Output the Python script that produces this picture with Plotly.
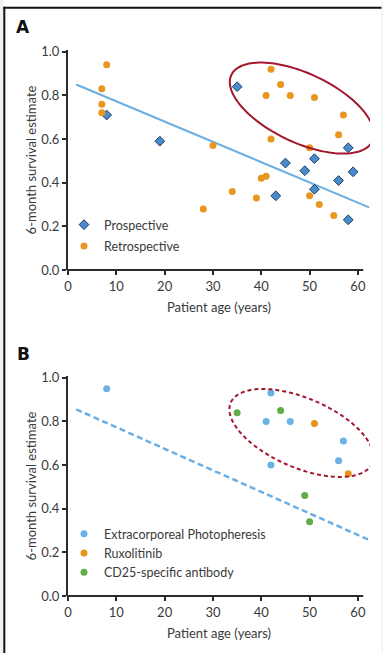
import numpy as np
import plotly.graph_objects as go

# ---------------- data ----------------
prosp_age = [8, 19, 35, 43, 45, 49, 51, 51, 56, 58, 58, 59]
prosp_surv = [0.71, 0.59, 0.84, 0.34, 0.49, 0.455, 0.51, 0.37, 0.41, 0.56, 0.23, 0.45]

retro_age = [7, 7, 7, 8, 28, 30, 34, 39, 40, 41, 41, 42, 42, 44, 46, 50, 50, 51, 52, 55, 56, 57]
retro_surv = [0.83, 0.76, 0.72, 0.94, 0.28, 0.57, 0.36, 0.33, 0.42, 0.43, 0.80, 0.92, 0.60,
              0.85, 0.80, 0.56, 0.34, 0.79, 0.30, 0.25, 0.62, 0.71]

trend_a_age = [1.7, 62.3]
trend_a_surv = [0.85, 0.287]

ecp_age = [8, 41, 42, 42, 46, 56, 57]
ecp_surv = [0.95, 0.80, 0.93, 0.60, 0.80, 0.62, 0.71]
rux_age = [51, 58]
rux_surv = [0.79, 0.56]
cd25_age = [35, 44, 49, 50]
cd25_surv = [0.84, 0.85, 0.46, 0.34]

trend_b_age = [1.7, 62.7]
trend_b_surv = [0.855, 0.253]

x_ticks = [0, 10, 20, 30, 40, 50, 60]
y_ticks = [0.0, 0.2, 0.4, 0.6, 0.8, 1.0]
y_tick_text = ["0.0", "0.2", "0.4", "0.6", "0.8", "1.0"]

# ---------------- layout geometry ----------------
W, H = 383, 653
ML, MR, MT, MB = 68, 13, 50, 57
X_RANGE = [0, 62.5]
Y_RANGE = [0, 1.008]
AXIS_END = 61.1
PLOT_W = W - ML - MR
PLOT_H = H - MT - MB
PANEL_H = 220


def paper_x(px):
    return (px - ML) / PLOT_W


def paper_y(py):
    return (H - MB - py) / PLOT_H


XS = PLOT_W / (X_RANGE[1] - X_RANGE[0])
YS = PANEL_H / (Y_RANGE[1] - Y_RANGE[0])


def ellipse_path(cx, cy, a_px, b_px, theta_deg, n=120):
    th = np.deg2rad(theta_deg)
    t = np.linspace(0, 2 * np.pi, n, endpoint=False)
    dx = a_px * np.cos(t) * np.cos(th) - b_px * np.sin(t) * np.sin(th)
    dy = a_px * np.cos(t) * np.sin(th) + b_px * np.sin(t) * np.cos(th)
    xs = cx + dx / XS
    ys = cy - dy / YS
    pts = [f"{x:.3f},{y:.4f}" for x, y in zip(xs, ys)]
    return "M" + " L".join(pts) + " Z"


FONT = "Lato, 'Open Sans', sans-serif"
TXT = "#3a3a3a"
AX = "#2b2b2b"

C_PRO = "#4a8bcb"
C_PRO_LINE = "#1d3c66"
C_RET = "#e8961f"
C_TREND = "#6aaee3"
C_ECP = "#6ab2e6"
C_RUX = "#e8911c"
C_CD25 = "#5eae45"
C_ELL = "#a3172f"

fig = go.Figure()

# Panel A
fig.add_trace(go.Scatter(x=trend_a_age, y=trend_a_surv, mode="lines",
                         line=dict(color=C_TREND, width=2), showlegend=False,
                         xaxis="x", yaxis="y", hoverinfo="skip"))
fig.add_trace(go.Scatter(x=prosp_age, y=prosp_surv, mode="markers", name="Prospective",
                         marker=dict(symbol="diamond", size=7.5, color=C_PRO,
                                     line=dict(color=C_PRO_LINE, width=1)),
                         xaxis="x", yaxis="y", legend="legend", legendgroup="p"))
fig.add_trace(go.Scatter(x=retro_age, y=retro_surv, mode="markers", name="Retrospective",
                         marker=dict(symbol="circle", size=7, color=C_RET),
                         xaxis="x", yaxis="y", legend="legend", legendgroup="r"))

# Panel B
fig.add_trace(go.Scatter(x=trend_b_age, y=trend_b_surv, mode="lines",
                         line=dict(color=C_TREND, width=2.5, dash="6px,3.5px"), showlegend=False,
                         xaxis="x2", yaxis="y2", hoverinfo="skip"))
fig.add_trace(go.Scatter(x=ecp_age, y=ecp_surv, mode="markers", name="Extracorporeal Photopheresis",
                         marker=dict(symbol="circle", size=7, color=C_ECP),
                         xaxis="x2", yaxis="y2", legend="legend2"))
fig.add_trace(go.Scatter(x=rux_age, y=rux_surv, mode="markers", name="Ruxolitinib",
                         marker=dict(symbol="circle", size=7, color=C_RUX),
                         xaxis="x2", yaxis="y2", legend="legend2"))
fig.add_trace(go.Scatter(x=cd25_age, y=cd25_surv, mode="markers", name="CD25-specific antibody",
                         marker=dict(symbol="circle", size=7, color=C_CD25),
                         xaxis="x2", yaxis="y2", legend="legend2"))

dom_a = [paper_y(270), paper_y(50)]
dom_b = [paper_y(596), paper_y(376)]

xaxis_common = dict(range=X_RANGE, tickvals=x_ticks, ticks="outside", ticklen=4, tickwidth=1.5,
                    tickcolor=AX, showline=False, showgrid=False, zeroline=False,
                    tickfont=dict(family=FONT, size=13, color=TXT),
                    title=dict(text="Patient age (years)", font=dict(family=FONT, size=13, color=TXT),
                               standoff=10),
                    domain=[0, 1], fixedrange=True)
yaxis_common = dict(range=Y_RANGE, tickvals=y_ticks, ticktext=y_tick_text, ticks="outside",
                    ticklen=4, tickwidth=1.5, tickcolor=AX, showline=True, linecolor=AX,
                    linewidth=2, showgrid=False, zeroline=False,
                    tickfont=dict(family=FONT, size=13, color=TXT),
                    title=dict(text="6-month survival estimate",
                               font=dict(family=FONT, size=13, color=TXT), standoff=2),
                    fixedrange=True)

shapes = []
# x-axis lines (drawn to the axis end)
for dom in (dom_a, dom_b):
    shapes.append(dict(type="line", xref="paper", yref="paper", x0=paper_x(67),
                       x1=(AXIS_END - X_RANGE[0]) / (X_RANGE[1] - X_RANGE[0]),
                       y0=dom[0], y1=dom[0], line=dict(color=AX, width=2)))
# ellipses
shapes.append(dict(type="path", xref="x", yref="y", path=ellipse_path(48.4, 0.742, 77.9, 34.5, 25.1),
                   line=dict(color=C_ELL, width=2)))
shapes.append(dict(type="path", xref="x2", yref="y2", path=ellipse_path(48.3, 0.747, 76.9, 34.7, 23.2),
                   line=dict(color=C_ELL, width=2, dash="4px,3px")))
# frame: light strips, left and top rules
shapes.append(dict(type="rect", xref="paper", yref="paper", x0=paper_x(0), x1=paper_x(3.3),
                   y0=paper_y(H), y1=paper_y(0), line=dict(width=0), fillcolor="#eef1f5", layer="below"))
shapes.append(dict(type="rect", xref="paper", yref="paper", x0=paper_x(381.5), x1=paper_x(W),
                   y0=paper_y(H), y1=paper_y(0), line=dict(width=0), fillcolor="#eef1f5", layer="below"))
shapes.append(dict(type="line", xref="paper", yref="paper", x0=paper_x(4.3), x1=paper_x(4.3),
                   y0=paper_y(H), y1=paper_y(6.8), line=dict(color="#111111", width=2)))
shapes.append(dict(type="line", xref="paper", yref="paper", x0=paper_x(3.3), x1=paper_x(381.5),
                   y0=paper_y(7.8), y1=paper_y(7.8), line=dict(color="#111111", width=2)))

annotations = [
    dict(text="<b>A</b>", xref="paper", yref="paper", x=paper_x(14), y=paper_y(27.5),
         xanchor="left", yanchor="middle", showarrow=False,
         font=dict(family="DejaVu Sans, Arial, sans-serif", size=17, color="#111111")),
    dict(text="<b>B</b>", xref="paper", yref="paper", x=paper_x(15), y=paper_y(353.5),
         xanchor="left", yanchor="middle", showarrow=False,
         font=dict(family="DejaVu Sans, Arial, sans-serif", size=17, color="#111111")),
]

fig.update_layout(
    width=W, height=H,
    margin=dict(l=ML, r=MR, t=MT, b=MB, autoexpand=False),
    paper_bgcolor="white", plot_bgcolor="white",
    xaxis=dict(xaxis_common, anchor="y"),
    yaxis=dict(yaxis_common, domain=dom_a, anchor="x"),
    xaxis2=dict(xaxis_common, anchor="y2"),
    yaxis2=dict(yaxis_common, domain=dom_b, anchor="x2"),
    shapes=shapes,
    annotations=annotations,
    legend=dict(x=paper_x(64), y=paper_y(210), xanchor="left", yanchor="top",
                font=dict(family=FONT, size=12.5, color=TXT), bgcolor="rgba(0,0,0,0)",
                tracegroupgap=2, itemwidth=30),
    legend2=dict(x=paper_x(64), y=paper_y(519), xanchor="left", yanchor="top",
                 font=dict(family=FONT, size=12.5, color=TXT), bgcolor="rgba(0,0,0,0)",
                 tracegroupgap=0, itemwidth=30),
    showlegend=True,
)

fig.write_html("out.html", config={"displayModeBar": False})
